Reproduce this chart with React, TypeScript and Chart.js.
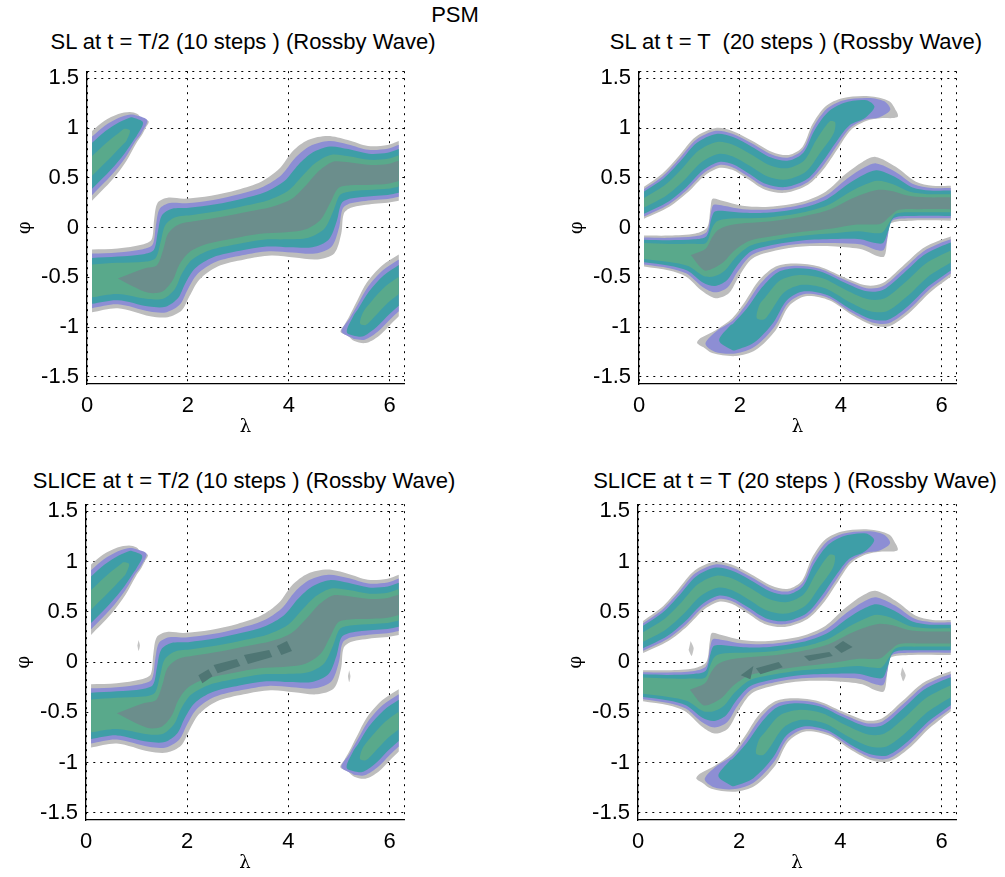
import React, { useEffect, useRef } from "react";
import { Chart, registerables } from "chart.js";

Chart.register(...registerables);

// ---------- axes ----------
const LAMBDA_TICKS = [0, 2, 4, 6];
const PHI_TICKS = [-1.5, -1, -0.5, 0, 0.5, 1, 1.5];
const LAMBDA_MAX = 2 * Math.PI;
const PHI_MAX = Math.PI / 2;

// ---------- texts ----------
const SUPER_TITLE = "PSM";
const PANEL_TITLES = [
  "SL at t = T/2 (10 steps ) (Rossby Wave)",
  "SL at t = T  (20 steps ) (Rossby Wave)",
  "SLICE at t = T/2 (10 steps ) (Rossby Wave)",
  "SLICE at t = T (20 steps ) (Rossby Wave)",
];
const X_LABEL = "λ";
const Y_LABEL = "φ";

// ---------- contour level colours (outer -> inner) ----------
const LEVEL_COLORS = ["#bdbdbd", "#8d8ed4", "#3e9ea7", "#59a98b", "#6b8e8c"];
const CORE_COLOR = "#4f7674";
const SPECK_COLOR = "#c4c4c4";

// relative widths of the nested contour levels
const STRIP_LEVELS = [1, 0.87, 0.73, 0.52, 0.34];
const WAVE_LEVELS = [1, 0.86, 0.7, 0.3];
const BLOB_LEVELS = [1, 0.84, 0.66, 0.28];

// ---------- SL, t = T/2 : main tilted band (outer contour, upper / lower edge) ----------
const halfMainTopLam = [0.1, 0.61, 1.1, 1.28, 1.33, 1.4, 1.6, 1.93, 2.46, 2.99, 3.45, 3.81, 4.08, 4.38, 4.77, 5.17, 5.57, 5.96, 6.18];
const halfMainTopPhi = [-0.22, -0.21, -0.17, -0.12, 0.08, 0.25, 0.3, 0.29, 0.32, 0.38, 0.46, 0.59, 0.77, 0.88, 0.92, 0.88, 0.82, 0.83, 0.87];
const halfMainBotLam = [0.1, 0.61, 1.25, 1.6, 1.88, 2.03, 2.23, 2.59, 3.12, 3.65, 4.11, 4.57, 4.9, 5.04, 5.09, 5.23, 5.7, 5.96, 6.18];
const halfMainBotPhi = [-0.85, -0.81, -0.89, -0.9, -0.83, -0.69, -0.52, -0.39, -0.32, -0.28, -0.3, -0.32, -0.26, -0.06, 0.14, 0.2, 0.24, 0.25, 0.27];

// SL, t = T/2 : upper-left lobe (cut by λ = 0, rounded tip at the upper right)
const halfLobeATopLam = [0.1, 0.34, 0.62, 0.85, 1.0, 1.08];
const halfLobeATopPhi = [0.97, 1.07, 1.14, 1.16, 1.14, 1.1];
const halfLobeABotLam = [0.1, 0.5, 0.78, 0.98, 1.1, 1.16];
const halfLobeABotPhi = [0.27, 0.48, 0.67, 0.85, 0.94, 1.0];

// SL, t = T/2 : lower-right lobe (rounded tip at the lower left, cut at the right edge)
const halfLobeBTopLam = [5.11, 5.2, 5.35, 5.55, 5.85, 6.18];
const halfLobeBTopPhi = [-0.97, -0.89, -0.74, -0.55, -0.38, -0.27];
const halfLobeBBotLam = [5.18, 5.3, 5.52, 5.78, 6.02, 6.18];
const halfLobeBBotPhi = [-1.09, -1.14, -1.16, -1.09, -0.97, -0.89];

// ---------- SL, t = T ----------
// upper wave
const fullUpTopLam = [0.1, 0.46, 0.79, 1.12, 1.52, 1.85, 2.25, 2.64, 2.97, 3.24, 3.44, 3.7, 4.03, 4.56, 4.96, 5.1];
const fullUpTopPhi = [0.41, 0.54, 0.72, 0.91, 1.0, 0.97, 0.87, 0.76, 0.73, 0.81, 1.04, 1.22, 1.3, 1.32, 1.27, 1.17];
const fullUpBotLam = [0.1, 0.6, 0.98, 1.3, 1.6, 1.85, 2.15, 2.5, 2.9, 3.35, 3.65, 3.95, 4.2, 4.5, 4.82, 5.03];
const fullUpBotPhi = [0.09, 0.21, 0.36, 0.52, 0.6, 0.58, 0.49, 0.38, 0.35, 0.43, 0.58, 0.8, 0.98, 1.07, 1.1, 1.1];

// middle band
const fullMidTopLam = [0.1, 0.6, 1.12, 1.35, 1.42, 1.46, 1.65, 2.05, 2.58, 3.24, 3.7, 4.1, 4.43, 4.69, 5.09, 5.49, 5.82, 6.18];
const fullMidTopPhi = [-0.08, -0.08, -0.06, 0.0, 0.21, 0.29, 0.27, 0.22, 0.21, 0.26, 0.36, 0.54, 0.66, 0.71, 0.61, 0.46, 0.42, 0.42];
const fullMidBotLam = [0.1, 0.6, 0.93, 1.26, 1.52, 1.78, 1.98, 2.25, 2.71, 3.24, 3.9, 4.43, 4.69, 4.86, 4.92, 4.98, 5.4, 6.18];
const fullMidBotPhi = [-0.39, -0.43, -0.49, -0.64, -0.71, -0.66, -0.49, -0.31, -0.23, -0.19, -0.19, -0.22, -0.28, -0.29, -0.13, 0.04, 0.07, 0.07];

// lower wave
const fullLowTopLam = [1.22, 1.52, 1.85, 2.12, 2.38, 2.71, 3.11, 3.57, 4.03, 4.5, 4.82, 5.22, 5.62, 5.95, 6.18];
const fullLowTopPhi = [-1.11, -1.03, -0.91, -0.73, -0.53, -0.39, -0.36, -0.39, -0.49, -0.58, -0.56, -0.39, -0.21, -0.13, -0.09];
const fullLowBotLam = [1.27, 1.45, 1.92, 2.31, 2.71, 2.97, 3.3, 3.77, 4.23, 4.63, 4.96, 5.35, 5.75, 6.0, 6.18];
const fullLowBotPhi = [-1.2, -1.26, -1.29, -1.23, -1.03, -0.79, -0.69, -0.73, -0.88, -0.98, -0.99, -0.86, -0.66, -0.56, -0.49];

// ---------- SLICE extras: darkest core patches and small isolated specks ----------
const sliceHalfCore1Lam = [2.22, 2.42, 2.5, 2.3];
const sliceHalfCore1Phi = [-0.13, -0.07, -0.14, -0.21];
const sliceHalfCore2Lam = [2.52, 2.98, 3.05, 2.6];
const sliceHalfCore2Phi = [-0.03, 0.03, -0.04, -0.11];
const sliceHalfCore3Lam = [3.12, 3.62, 3.68, 3.2];
const sliceHalfCore3Phi = [0.07, 0.12, 0.05, -0.02];
const sliceHalfCore4Lam = [3.77, 3.97, 4.07, 3.86];
const sliceHalfCore4Phi = [0.16, 0.21, 0.11, 0.07];
const sliceHalfSpeck1Lam = [1.04, 1.065, 1.04, 1.015];
const sliceHalfSpeck1Phi = [0.22, 0.165, 0.11, 0.165];
const sliceHalfSpeck2Lam = [5.2, 5.225, 5.2, 5.175];
const sliceHalfSpeck2Phi = [-0.08, -0.14, -0.2, -0.14];

const sliceFullCore1Lam = [2.03, 2.28, 2.22];
const sliceFullCore1Phi = [-0.13, -0.04, -0.17];
const sliceFullCore2Lam = [2.33, 2.78, 2.86, 2.42];
const sliceFullCore2Phi = [-0.06, 0.0, -0.05, -0.12];
const sliceFullCore3Lam = [3.28, 3.78, 3.85, 3.38];
const sliceFullCore3Phi = [0.06, 0.1, 0.06, 0.01];
const sliceFullCore4Lam = [3.88, 4.05, 4.24, 4.02];
const sliceFullCore4Phi = [0.15, 0.21, 0.15, 0.09];
const sliceFullSpeck1Lam = [1.04, 1.1, 1.06, 1.0];
const sliceFullSpeck1Phi = [0.21, 0.14, 0.06, 0.12];
const sliceFullSpeck2Lam = [5.22, 5.29, 5.24, 5.19];
const sliceFullSpeck2Phi = [-0.05, -0.13, -0.19, -0.12];

// ---------- dataset builders ----------
type End = "cut" | "tip";
type Band = {
  topLam: number[];
  topPhi: number[];
  botLam: number[];
  botPhi: number[];
  levels: number[];
  start: End;
  end: End;
  tipRetreat: number;
  coreRange?: [number, number]; // pair indices covered by the innermost level
};
type Pt = { x: number; y: number };

// pixel-proportional metric: one φ unit is twice as tall as one λ unit is wide
const Y_METRIC = 2;

function polygon(data: Pt[], color: string, order: number, tension: number) {
  return {
    data,
    backgroundColor: color,
    borderColor: "transparent",
    borderWidth: 0,
    pointRadius: 0,
    pointHoverRadius: 0,
    fill: "shape",
    tension,
    order,
  };
}

function bandLevel(b: Band, f: number, k: number) {
  let tl = b.topLam.slice(), tp = b.topPhi.slice(), bl = b.botLam.slice(), bp = b.botPhi.slice();
  const N = tl.length;
  const fs = tl.map(() => f);
  let startType: End = b.start;
  let endType: End = b.end;

  // innermost level may only cover part of the band, tapering at its ends
  if (b.coreRange && k === b.levels.length - 1) {
    const [i0, i1] = b.coreRange;
    tl = tl.slice(i0, i1 + 1); tp = tp.slice(i0, i1 + 1); bl = bl.slice(i0, i1 + 1); bp = bp.slice(i0, i1 + 1);
    fs.length = 0;
    for (let i = i0; i <= i1; i++) fs.push(f);
    if (i0 > 0) { fs[0] = 0; startType = "cut"; }
    if (i1 < N - 1) { fs[fs.length - 1] = 0; endType = "cut"; }
  }

  // orient so that any tip is at the end of the arrays
  if (startType === "tip") {
    tl.reverse(); tp.reverse(); bl.reverse(); bp.reverse(); fs.reverse();
    endType = "tip";
  }
  let n = tl.length;
  const mid = (i: number) => ({ x: (tl[i] + bl[i]) / 2, y: (tp[i] + bp[i]) / 2 });

  // inner levels stop short of a rounded tip
  if (endType === "tip" && f < 1) {
    const s = [0];
    for (let i = 1; i < n; i++) {
      const a = mid(i - 1), c = mid(i);
      s.push(s[i - 1] + Math.hypot(c.x - a.x, Y_METRIC * (c.y - a.y)));
    }
    const target = s[n - 1] - (1 - f) * b.tipRetreat;
    let j = n - 1;
    while (j > 1 && s[j] > target) j--;
    if (j < n - 1 && s[j] <= target) {
      const t = (target - s[j]) / (s[j + 1] - s[j]);
      const L = (u: number[]) => u[j] + (u[j + 1] - u[j]) * t;
      const nl = [L(tl), L(tp), L(bl), L(bp)];
      tl = tl.slice(0, j + 1).concat(nl[0]);
      tp = tp.slice(0, j + 1).concat(nl[1]);
      bl = bl.slice(0, j + 1).concat(nl[2]);
      bp = bp.slice(0, j + 1).concat(nl[3]);
      fs.length = j + 2;
      fs[j + 1] = f;
      n = tl.length;
    } else if (j < n - 1) {
      tl = tl.slice(0, j + 1); tp = tp.slice(0, j + 1); bl = bl.slice(0, j + 1); bp = bp.slice(0, j + 1);
      fs.length = j + 1;
      n = tl.length;
    }
  }

  const top: Pt[] = [];
  const bot: Pt[] = [];
  for (let i = 0; i < n; i++) {
    const m = mid(i);
    const g = fs[i];
    top.push({ x: m.x + (tl[i] - m.x) * g, y: m.y + (tp[i] - m.y) * g });
    bot.push({ x: m.x + (bl[i] - m.x) * g, y: m.y + (bp[i] - m.y) * g });
  }
  const pts: Pt[] = [...top];
  if (endType === "cut") {
    pts.push({ ...top[n - 1] }, { ...bot[n - 1] });
  } else {
    const m1 = mid(n - 1), m0 = mid(n - 2);
    let dx = m1.x - m0.x, dy = Y_METRIC * (m1.y - m0.y);
    const len = Math.hypot(dx, dy) || 1;
    dx /= len; dy /= len;
    const half = 0.5 * Math.hypot(top[n - 1].x - bot[n - 1].x, Y_METRIC * (top[n - 1].y - bot[n - 1].y));
    pts.push({ x: m1.x + dx * half, y: m1.y + (dy * half) / Y_METRIC });
  }
  pts.push(...bot.reverse());
  return polygon(pts, LEVEL_COLORS[k], 10 - k, 0.3);
}

function bandDatasets(b: Band) {
  return b.levels.map((f, k) => bandLevel(b, f, k));
}

function patch(lam: number[], phi: number[], color: string, order: number, tension: number) {
  return polygon(lam.map((x, i) => ({ x, y: phi[i] })), color, order, tension);
}

const halfMain: Band = { topLam: halfMainTopLam, topPhi: halfMainTopPhi, botLam: halfMainBotLam, botPhi: halfMainBotPhi, levels: STRIP_LEVELS, start: "cut", end: "cut", tipRetreat: 0, coreRange: [1, 18] };
const halfLobeA: Band = { topLam: halfLobeATopLam, topPhi: halfLobeATopPhi, botLam: halfLobeABotLam, botPhi: halfLobeABotPhi, levels: BLOB_LEVELS, start: "cut", end: "tip", tipRetreat: 0.6 };
const halfLobeB: Band = { topLam: halfLobeBTopLam, topPhi: halfLobeBTopPhi, botLam: halfLobeBBotLam, botPhi: halfLobeBBotPhi, levels: BLOB_LEVELS, start: "tip", end: "cut", tipRetreat: 0.6 };
const fullUp: Band = { topLam: fullUpTopLam, topPhi: fullUpTopPhi, botLam: fullUpBotLam, botPhi: fullUpBotPhi, levels: WAVE_LEVELS, start: "cut", end: "tip", tipRetreat: 2.0 };
const fullMid: Band = { topLam: fullMidTopLam, topPhi: fullMidTopPhi, botLam: fullMidBotLam, botPhi: fullMidBotPhi, levels: STRIP_LEVELS, start: "cut", end: "cut", tipRetreat: 0, coreRange: [2, 17] };
const fullLow: Band = { topLam: fullLowTopLam, topPhi: fullLowTopPhi, botLam: fullLowBotLam, botPhi: fullLowBotPhi, levels: WAVE_LEVELS, start: "tip", end: "cut", tipRetreat: 2.0 };

function slHalfDatasets() {
  return [...bandDatasets(halfMain), ...bandDatasets(halfLobeA), ...bandDatasets(halfLobeB)];
}
function slFullDatasets() {
  return [...bandDatasets(fullUp), ...bandDatasets(fullMid), ...bandDatasets(fullLow)];
}
function sliceHalfDatasets() {
  return [
    ...slHalfDatasets(),
    patch(sliceHalfCore1Lam, sliceHalfCore1Phi, CORE_COLOR, 2, 0),
    patch(sliceHalfCore2Lam, sliceHalfCore2Phi, CORE_COLOR, 2, 0),
    patch(sliceHalfCore3Lam, sliceHalfCore3Phi, CORE_COLOR, 2, 0),
    patch(sliceHalfCore4Lam, sliceHalfCore4Phi, CORE_COLOR, 2, 0),
    patch(sliceHalfSpeck1Lam, sliceHalfSpeck1Phi, SPECK_COLOR, 10, 0.2),
    patch(sliceHalfSpeck2Lam, sliceHalfSpeck2Phi, SPECK_COLOR, 10, 0.2),
  ];
}
function sliceFullDatasets() {
  return [
    ...slFullDatasets(),
    patch(sliceFullCore1Lam, sliceFullCore1Phi, CORE_COLOR, 2, 0),
    patch(sliceFullCore2Lam, sliceFullCore2Phi, CORE_COLOR, 2, 0),
    patch(sliceFullCore3Lam, sliceFullCore3Phi, CORE_COLOR, 2, 0),
    patch(sliceFullCore4Lam, sliceFullCore4Phi, CORE_COLOR, 2, 0),
    patch(sliceFullSpeck1Lam, sliceFullSpeck1Phi, SPECK_COLOR, 10, 0.2),
    patch(sliceFullSpeck2Lam, sliceFullSpeck2Phi, SPECK_COLOR, 10, 0.2),
  ];
}

// ---------- layout ----------
const Y_AXIS_W = 87;
const X_AXIS_H = 66;
const PAD_TOP = 20;
const PAD_RIGHT = 16;
const FONT = '"Liberation Sans", Arial, Helvetica, sans-serif';
const SYMBOL_FONT = '"DejaVu Serif", "Liberation Serif", serif';

const PANELS = [
  { title: PANEL_TITLES[0], titleX: 243, titleTop: 31, area: { left: 87, top: 70, right: 404, bottom: 384 }, build: slHalfDatasets },
  { title: PANEL_TITLES[1], titleX: 796, titleTop: 31, area: { left: 639, top: 70, right: 956, bottom: 384 }, build: slFullDatasets },
  { title: PANEL_TITLES[2], titleX: 244, titleTop: 470, area: { left: 86, top: 503, right: 404, bottom: 820 }, build: sliceHalfDatasets },
  { title: PANEL_TITLES[3], titleX: 795, titleTop: 470, area: { left: 638, top: 503, right: 956, bottom: 820 }, build: sliceFullDatasets },
];

function Panel({ panel }: { panel: (typeof PANELS)[number] }) {
  const ref = useRef<HTMLCanvasElement | null>(null);
  const a = panel.area;
  const w = a.right - a.left + Y_AXIS_W + PAD_RIGHT;
  const h = a.bottom - a.top + PAD_TOP + X_AXIS_H;

  useEffect(() => {
    if (!ref.current) return;
    const gridCommon = {
      grid: { color: "#000", lineWidth: 1, drawTicks: false, tickLength: 0 },
      border: { display: true, color: "#000", width: 1.3, dash: [2, 5] },
    };
    const chart = new Chart(ref.current, {
      type: "line",
      data: { datasets: panel.build() as any },
      options: {
        animation: false,
        responsive: false,
        devicePixelRatio: 1,
        events: [],
        layout: { padding: { top: PAD_TOP, right: PAD_RIGHT, left: 0, bottom: 0 } },
        plugins: { legend: { display: false }, tooltip: { enabled: false }, title: { display: false } },
        scales: {
          x: {
            type: "linear",
            min: 0,
            max: LAMBDA_MAX,
            z: 1,
            ...gridCommon,
            afterBuildTicks: (s: any) => {
              s.ticks = [...LAMBDA_TICKS, LAMBDA_MAX].map((v) => ({ value: v }));
            },
            afterFit: (s: any) => {
              s.height = X_AXIS_H;
            },
            ticks: {
              color: "#000",
              padding: 9,
              maxRotation: 0,
              autoSkip: false,
              font: { family: FONT, size: 22 },
              callback: (v: any) => (LAMBDA_TICKS.includes(v) ? String(v) : ""),
            },
            title: {
              display: true,
              text: X_LABEL,
              color: "#000",
              font: { family: SYMBOL_FONT, size: 18 },
              padding: { top: 0, bottom: 12 },
            },
          },
          y: {
            type: "linear",
            min: -PHI_MAX,
            max: PHI_MAX,
            z: 1,
            ...gridCommon,
            afterBuildTicks: (s: any) => {
              s.ticks = [...PHI_TICKS, PHI_MAX].map((v) => ({ value: v }));
            },
            afterFit: (s: any) => {
              s.width = Y_AXIS_W;
            },
            ticks: {
              color: "#000",
              padding: 8,
              autoSkip: false,
              font: { family: FONT, size: 22 },
              callback: (v: any) => (PHI_TICKS.includes(v) ? String(v) : ""),
            },
            title: {
              display: true,
              text: Y_LABEL,
              color: "#000",
              font: { family: SYMBOL_FONT, size: 18 },
              padding: { top: 15, bottom: 0 },
            },
          },
        },
      } as any,
    });
    return () => chart.destroy();
  }, []);

  return (
    <canvas
      ref={ref}
      width={w}
      height={h}
      style={{ position: "absolute", left: a.left - Y_AXIS_W, top: a.top - PAD_TOP, width: w, height: h }}
    />
  );
}

const titleStyle = (x: number, top: number): React.CSSProperties => ({
  position: "absolute",
  left: x,
  top,
  transform: "translateX(-50%)",
  whiteSpace: "pre",
  fontFamily: FONT,
  fontSize: 22,
  lineHeight: "22px",
  color: "#000",
});

export default function App() {
  return (
    <div style={{ position: "absolute", left: 0, top: 0, width: 1005, height: 877, background: "#fff", overflow: "hidden" }}>
      <div style={titleStyle(455, 4)}>{SUPER_TITLE}</div>
      {PANELS.map((p, i) => (
        <React.Fragment key={i}>
          <div style={titleStyle(p.titleX, p.titleTop)}>{p.title}</div>
          <Panel panel={p} />
        </React.Fragment>
      ))}
    </div>
  );
}
